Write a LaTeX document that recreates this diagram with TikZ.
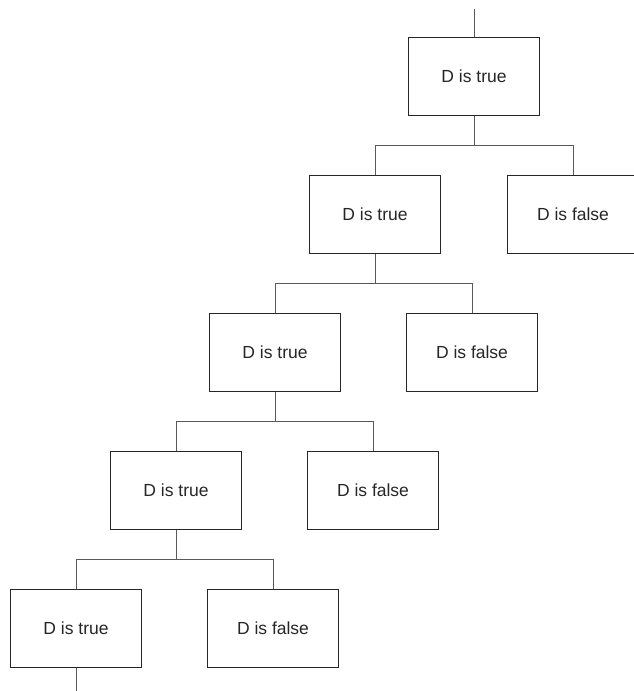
\documentclass[tikz,border=0pt]{standalone}
\usepackage{fontspec}
\setmainfont{Liberation Sans}
\begin{document}
\begin{tikzpicture}[x=1pt,y=-1pt,
  box/.style={draw=black!85,line width=0.9pt,rectangle,minimum width=131pt,minimum height=78pt,inner sep=0pt,font=\fontsize{17.5}{20}\selectfont,text=black!85},
  conn/.style={draw=black!65,line width=0.9pt}]
\useasboundingbox (0,0) rectangle (634,691);
\clip (0,0) rectangle (634,691);
\node[box] (t1) at (474,76.5) {D is true};
\node[box] (t2) at (375,214.5) {D is true};
\node[box] (f2) at (573,214.5) {D is false};
\node[box] (t3) at (275,352.5) {D is true};
\node[box] (f3) at (472,352.5) {D is false};
\node[box] (t4) at (176,490.5) {D is true};
\node[box] (f4) at (373,490.5) {D is false};
\node[box] (t5) at (76,628.5) {D is true};
\node[box] (f5) at (273,628.5) {D is false};
\coordinate (top) at (474,9);
\coordinate (bot) at (76,691);
\draw[conn] (top) -- (t1.north);
\draw[conn] (t1.south) -- ++(0,30);
\draw[conn] (t2.north) -- ++(0,-30) -| (f2.north);
\draw[conn] (t2.south) -- ++(0,30);
\draw[conn] (t3.north) -- ++(0,-30) -| (f3.north);
\draw[conn] (t3.south) -- ++(0,30);
\draw[conn] (t4.north) -- ++(0,-30) -| (f4.north);
\draw[conn] (t4.south) -- ++(0,30);
\draw[conn] (t5.north) -- ++(0,-30) -| (f5.north);
\draw[conn] (t5.south) -- (bot);
\end{tikzpicture}
\end{document}
